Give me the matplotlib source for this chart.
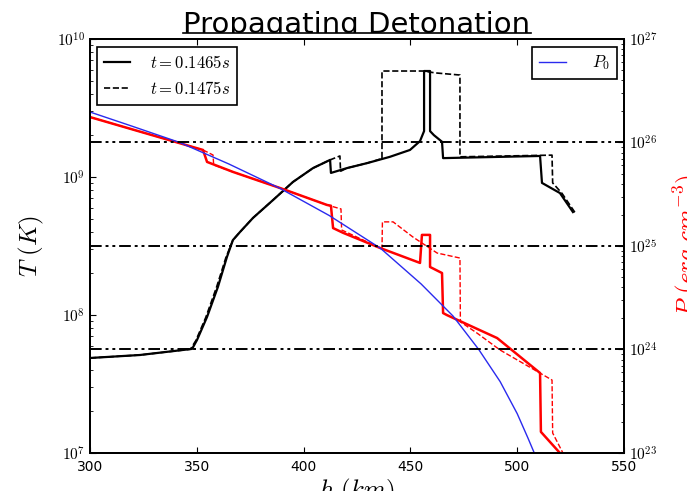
import numpy as np
import matplotlib
matplotlib.use('Agg')
import matplotlib.pyplot as plt
from matplotlib.ticker import FuncFormatter, NullFormatter, LogLocator
from matplotlib.transforms import Bbox
from matplotlib.lines import Line2D

# temperature profile, t = 0.1465 s
h_t1 = [300, 323.4, 347.8, 350.1, 354.8, 359.9, 364.1, 366.9, 370.2, 376.3,
        385.7, 395.0, 404.4, 412.4, 412.8, 420.3, 429.7, 440.4, 449.8, 454.5,
        456.4, 456.4, 459.2, 459.2, 461.0, 464.8, 465.3, 510.7, 511.6, 520.0,
        526.1]
T_t1 = [4.88e7, 5.13e7, 5.68e7, 6.59e7, 9.68e7, 1.60e8, 2.63e8, 3.49e8, 3.99e8, 5.05e8,
        6.81e8, 9.20e8, 1.16e9, 1.33e9, 1.07e9, 1.16e9, 1.26e9, 1.40e9, 1.57e9, 1.82e9,
        2.15e9, 5.86e9, 5.86e9, 2.15e9, 2.01e9, 1.80e9, 1.37e9, 1.42e9, 9.06e8, 7.65e8,
        5.57e8]

# temperature profile, t = 0.1475 s
h_t2 = [300, 323.4, 347.0, 349.5, 354.2, 359.3, 363.6, 366.9, 370.2, 376.3,
        385.7, 395.0, 404.4, 412.4, 417.0, 417.3, 420.3, 429.7, 436.7, 436.7,
        455.9, 461.6, 473.2, 473.2, 516.3, 516.6, 521.0, 527.5]
T_t2 = [4.88e7, 5.13e7, 5.65e7, 6.5e7, 9.6e7, 1.6e8, 2.6e8, 3.49e8, 3.99e8, 5.05e8,
        6.81e8, 9.20e8, 1.16e9, 1.33e9, 1.42e9, 1.10e9, 1.16e9, 1.26e9, 1.36e9, 5.86e9,
        5.86e9, 5.68e9, 5.48e9, 1.40e9, 1.44e9, 9.06e8, 7.6e8, 5.4e8]

# pressure profile, t = 0.1465 s
h_p1 = [300, 352.9, 354.8, 367.0, 389.0, 411.0, 412.8, 413.8, 418.5, 435.8,
        454.5, 455.4, 459.2, 459.2, 464.8, 465.3, 467.1, 490.6, 510.7, 511.1,
        520.0]
P_p1 = [1.76e26, 8.47e25, 6.49e25, 5.19e25, 3.63e25, 2.49e25, 2.45e25, 1.49e25, 1.34e25, 9.57e24,
        6.86e24, 1.28e25, 1.28e25, 6.27e24, 5.48e24, 2.25e24, 2.15e24, 1.29e24, 5.93e23, 1.60e23,
        1.0e23]

# pressure profile, t = 0.1475 s
h_p2 = [300, 352.9, 357.6, 357.9, 367.0, 389.0, 411.0, 417.5, 417.8, 435.8,
        436.7, 436.9, 441.9, 451.2, 462.5, 473.2, 473.4, 481.2, 492.0, 516.3,
        516.6, 521.4]
P_p2 = [1.76e26, 8.47e25, 7.57e25, 6.07e25, 5.19e25, 3.63e25, 2.49e25, 2.28e25, 1.43e25, 9.57e24,
        9.35e24, 1.71e25, 1.71e25, 1.22e25, 8.55e24, 7.65e24, 1.85e24, 1.44e24, 9.88e23, 5.07e23,
        1.56e23, 1.0e23]

# initial (unburnt) pressure P0
h_p0 = [300, 320, 342, 365, 389, 412, 436, 455, 470, 482, 492, 500, 505, 508]
P0 = [1.97e26, 1.43e26, 1.0e26, 6.2e25, 3.6e25, 1.97e25, 9.5e24, 4.3e24, 2.1e24,
      1.0e24, 4.9e23, 2.4e23, 1.4e23, 1.0e23]

P_levels = [1e24, 1e25, 1e26]
labels = [r'$t=0.1465s$', r'$t=0.1475s$']

plt.rcParams['mathtext.fontset'] = 'cm'
plt.rcParams['xtick.direction'] = 'in'
plt.rcParams['ytick.direction'] = 'in'
plt.rcParams['xtick.major.size'] = 4
plt.rcParams['ytick.major.size'] = 4
plt.rcParams['xtick.minor.size'] = 2
plt.rcParams['ytick.minor.size'] = 2
plt.rcParams['xtick.top'] = True
plt.rcParams['axes.linewidth'] = 1.4

fig = plt.figure(figsize=(6.87, 4.91), dpi=100)
ax = fig.add_axes([0.1310, 0.0774, 0.7773, 0.8432])
ax2 = ax.twinx()

ax.plot(h_t1, T_t1, 'k-', lw=1.6, label=labels[0])
ax.plot(h_t2, T_t2, 'k--', lw=1.2, label=labels[1])
ax.set_yscale('log')
ax.set_xlim(300, 550)
ax.set_ylim(1e7, 1e10)
ax.set_xticks([300, 350, 400, 450, 500, 550])

ax2.plot(h_p1, P_p1, 'r-', lw=1.8)
ax2.plot(h_p2, P_p2, 'r--', lw=1.0)
ax2.plot(h_p0, P0, color='#2a2aee', lw=1.0, label=r'$P_0$')
for p in P_levels:
    ax2.axhline(p, color='k', lw=1.4, dashes=(6, 2, 1.5, 2, 1.5, 2))
ax2.set_yscale('log')
ax2.set_ylim(1e23, 1e27)

dec = FuncFormatter(lambda v, pos: r'$10^{%d}$' % round(np.log10(v)))
for a in (ax, ax2):
    a.yaxis.set_major_locator(LogLocator(base=10))
    a.yaxis.set_minor_locator(LogLocator(base=10, subs=np.arange(2, 10)))
    a.yaxis.set_major_formatter(dec)
    a.yaxis.set_minor_formatter(NullFormatter())
    a.tick_params(axis='y', labelsize=11)
ax.tick_params(axis='x', labelsize=10, pad=5)

ax.set_xlabel(r'$h\ (km)$', fontsize=18, labelpad=2)
ax.set_ylabel(r'$T\ (K)$', fontsize=18, labelpad=8)
ax2.set_ylabel(r'$P\ (erg\ cm^{-3})$', fontsize=18, color='r', labelpad=10)

leg1 = ax.legend(loc='upper left', bbox_to_anchor=(0.013, 0.981), borderaxespad=0,
                 fontsize=12, fancybox=False, edgecolor='k', framealpha=1,
                 handlelength=1.6, handletextpad=1.2)
leg1.get_frame().set_linewidth(1.2)
leg2 = ax2.legend(loc='upper right', bbox_to_anchor=(0.987, 0.981), borderaxespad=0,
                  fontsize=12, fancybox=False, edgecolor='k', framealpha=1,
                  handlelength=1.6, handletextpad=1.6)
leg2.get_frame().set_linewidth(1.2)

title = ax.set_title('Propagating Detonation', fontsize=21, pad=4.3)

# title is cut along its baseline with a rule under it
fig.canvas.draw()
bb = title.get_window_extent()
cut = fig.bbox.height - 33
title.set_clip_box(Bbox.from_extents(0, cut, fig.bbox.width, fig.bbox.height))
title.set_clip_on(True)
inv = fig.transFigure.inverted()
(x0, y0), (x1, _) = inv.transform([(bb.x0, cut), (bb.x1, cut)])
fig.add_artist(Line2D([x0, x1], [y0, y0], color='k', lw=1.2, transform=fig.transFigure))

fig.savefig('out.png', dpi=100)
